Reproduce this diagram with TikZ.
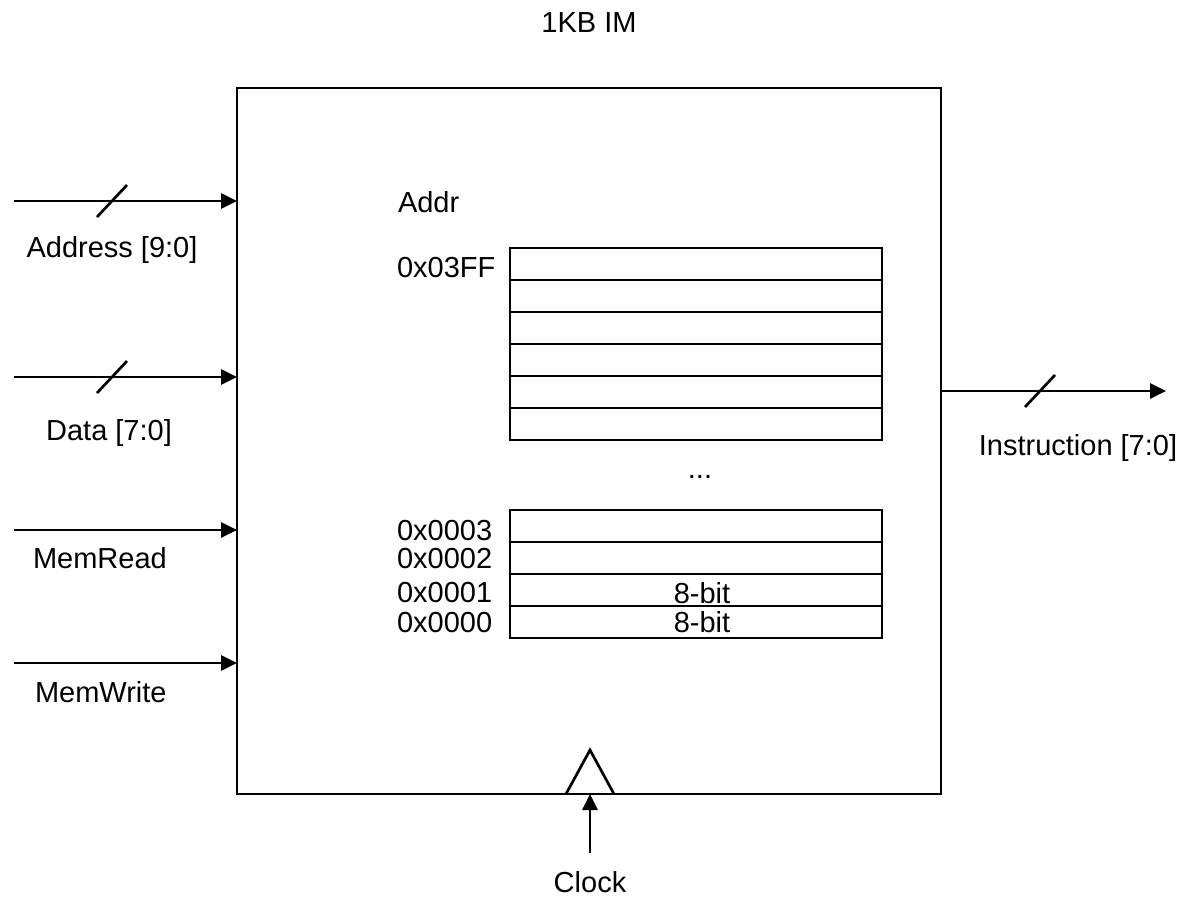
\documentclass[tikz,border=0pt]{standalone}
\usepackage{fontspec}
\setmainfont{Liberation Sans}
\usetikzlibrary{arrows.meta,calc}
\begin{document}
\begin{tikzpicture}[x=1pt,y=-1pt,
  every node/.style={font=\fontsize{29}{34}\selectfont, inner sep=0pt, outer sep=0pt},
  wire/.style={line width=2.7pt},
  arr/.style={wire,-{Triangle[length=16pt,width=15pt]}},
  lbl/.style={anchor=base},
  lbll/.style={anchor=base west},
  cell/.style={draw, line width=2.7pt, minimum width=372pt, minimum height=32pt}
]
\useasboundingbox (0,0) rectangle (1183,897);
% title
\node[lbl] (title) at (589,32) {1KB IM};
% main box
\node[draw, line width=2.7pt, minimum width=704pt, minimum height=706pt] (box) at (589,441) {};
% inputs
\coordinate (inA) at (14,201);
\coordinate (inD) at (14,377);
\coordinate (inR) at (14,530);
\coordinate (inW) at (14,663);
\draw[arr] (inA) -- (inA -| box.west);
\draw[arr] (inD) -- (inD -| box.west);
\draw[arr] (inR) -- (inR -| box.west);
\draw[arr] (inW) -- (inW -| box.west);
% bus slashes
\coordinate (sA) at (112,201);
\coordinate (sD) at (112,377);
\coordinate (sO) at (1040,391);
\draw[wire] ($(sA)+(-15,16)$) -- ($(sA)+(15,-16)$);
\draw[wire] ($(sD)+(-15,16)$) -- ($(sD)+(15,-16)$);
\draw[wire] ($(sO)+(-15,16)$) -- ($(sO)+(15,-16)$);
% input labels
\node[lbl] (lA) at (112,257) {Address [9:0]};
\node[lbl] (lD) at (109,440) {Data [7:0]};
\node[lbll] (lR) at (33,568) {MemRead};
\node[lbll] (lW) at (35,702) {MemWrite};
% output
\coordinate (out) at (1166,391);
\draw[arr] (out -| box.east) -- (out);
\node[lbl] (lO) at (1078,455) {Instruction [7:0]};
% memory cells (top group)
\foreach \i/\y in {1/264,2/296,3/328,4/360,5/392,6/424} {
  \node[cell] (t\i) at (696,\y) {};
}
% memory cells (bottom group)
\node[cell] (b3) at (696,526) {};
\node[cell] (b2) at (696,558) {};
\node[cell] (b1) at (696,590) {};
\node[cell] (b0) at (696,622) {};
\node[lbl] (v1) at (702,603) {8-bit};
\node[lbl] (v0) at (702,632) {8-bit};
% address labels
\node[lbll] (addr) at (398,212) {Addr};
\node[lbll] (a3ff) at (397,277) {0x03FF};
\node[lbll] (a3) at (397,540) {0x0003};
\node[lbll] (a2) at (397,568) {0x0002};
\node[lbll] (a1) at (397,602) {0x0001};
\node[lbll] (a0) at (397,632) {0x0000};
\node[lbl] (dots) at (700,478) {...};
% clock triangle
\coordinate (clk) at (590,853);
\draw[wire, line join=miter] ($(clk |- box.south)+(-24,0)$) -- (590,750) -- ($(clk |- box.south)+(24,0)$);
\draw[arr] (clk) -- (clk |- box.south);
\node[lbl] (lC) at (590,892) {Clock};
\end{tikzpicture}
\end{document}
